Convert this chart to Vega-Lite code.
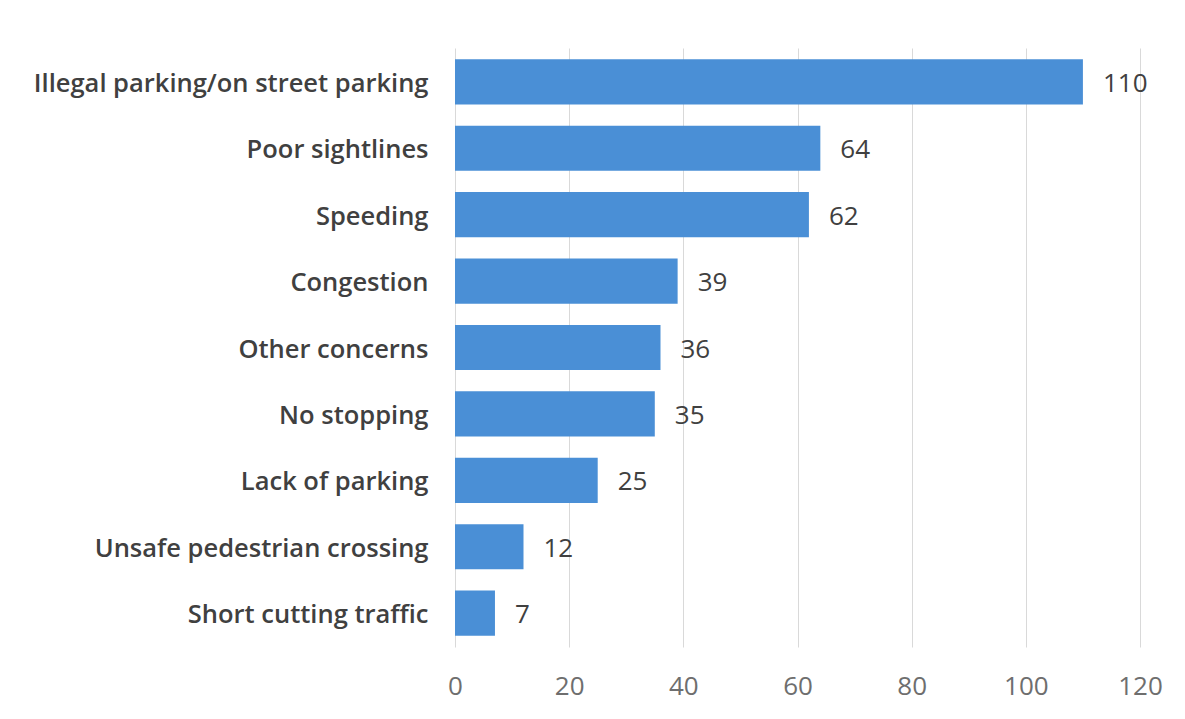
{
  "$schema": "https://vega.github.io/schema/vega-lite/v6.json",
  "width": 685,
  "height": 599,
  "autosize": {"type": "none"},
  "padding": {"left": 455, "top": 48, "right": 45, "bottom": 72},
  "background": "white",
  "config": {
    "view": {"stroke": null},
    "font": "Open Sans"
  },
  "data": {
    "values": [
      {"concern": "Illegal parking/on street parking", "count": 110},
      {"concern": "Poor sightlines", "count": 64},
      {"concern": "Speeding", "count": 62},
      {"concern": "Congestion", "count": 39},
      {"concern": "Other concerns", "count": 36},
      {"concern": "No stopping", "count": 35},
      {"concern": "Lack of parking", "count": 25},
      {"concern": "Unsafe pedestrian crossing", "count": 12},
      {"concern": "Short cutting traffic", "count": 7}
    ]
  },
  "encoding": {
    "y": {
      "field": "concern",
      "type": "nominal",
      "sort": null,
      "title": null,
      "scale": {"paddingInner": 0.32, "paddingOuter": 0.17},
      "axis": {
        "domain": false,
        "ticks": false,
        "labelPadding": 27,
        "labelOffset": 2,
        "labelLimit": 500,
        "labelFont": "Open Sans",
        "labelFontWeight": 600,
        "labelFontSize": 25.5,
        "labelColor": "#404040"
      }
    },
    "x": {
      "field": "count",
      "type": "quantitative",
      "title": null,
      "scale": {"domain": [0, 120], "nice": false},
      "axis": {
        "values": [0, 20, 40, 60, 80, 100, 120],
        "domain": false,
        "ticks": false,
        "grid": true,
        "gridColor": "#d9d9d9",
        "gridWidth": 1,
        "labelFlush": false,
        "labelPadding": 26,
        "labelFont": "Open Sans",
        "labelFontSize": 26,
        "labelColor": "#6e6e6e"
      }
    }
  },
  "layer": [
    {
      "mark": {"type": "bar", "color": "#4a8fd6"}
    },
    {
      "mark": {
        "type": "text",
        "align": "left",
        "baseline": "middle",
        "dx": 20,
        "dy": 2,
        "fontSize": 26,
        "color": "#404040"
      },
      "encoding": {"text": {"field": "count", "type": "quantitative"}}
    }
  ]
}
